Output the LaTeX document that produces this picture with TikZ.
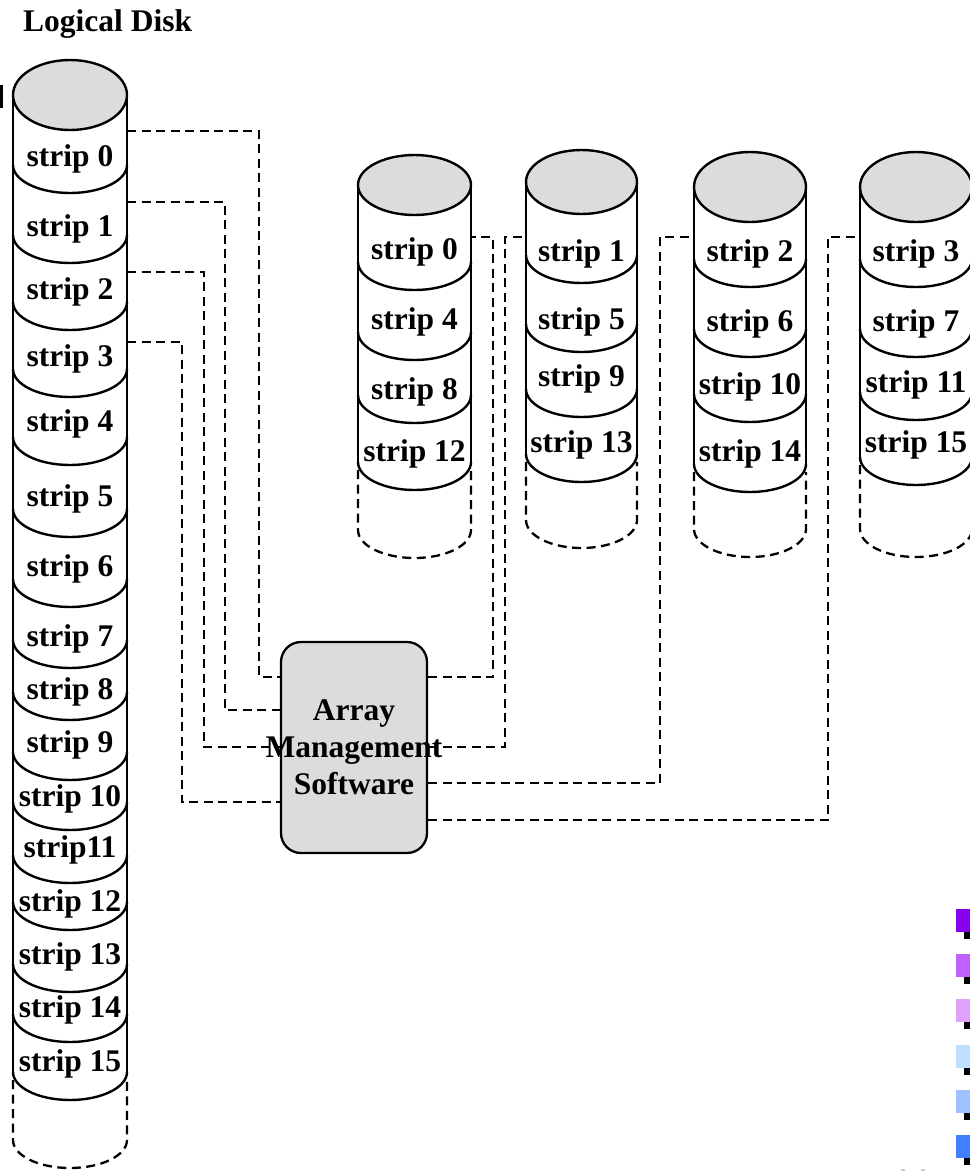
\documentclass[tikz,border=0pt]{standalone}
\usepackage{fontspec}
\setmainfont{Liberation Serif}
\definecolor{diskgray}{HTML}{DCDCDC}
\definecolor{swA}{HTML}{8800EE}
\definecolor{swB}{HTML}{BF60FF}
\definecolor{swC}{HTML}{DFA2F8}
\definecolor{swD}{HTML}{C0E0FF}
\definecolor{swE}{HTML}{A0C0FF}
\definecolor{swF}{HTML}{4080FF}
\newcommand\lblfont{\fontsize{31.5}{37}\selectfont\bfseries}

% #1 name prefix, #2 centre x, #3 half width, #4 centre y of the top,
% #5 y radius of the top, #6 segments (bottom/label centre/text),
% #7 end of the solid sides, #8 centre y of the dashed bottom arc
\newcommand\drawdisk[8]{%
  \draw[disk line] (#2-#3,#4) -- (#2-#3,#7) (#2+#3,#4) -- (#2+#3,#7);
  \draw[hidden] (#2-#3,#7+8) -- (#2-#3,#8)
     arc[start angle=180,end angle=360,x radius=#3pt,y radius=28pt] -- (#2+#3,#7+8);
  \foreach \b/\l/\t [count=\i from 0] in {#6} {
    \draw[disk line] (#2-#3,\b-28)
       arc[start angle=180,end angle=360,x radius=#3pt,y radius=28pt];
    \node[lbl] (#1\i) at (#2,\l+9) {\t};
  }
  \draw[disk top] (#2,#4) ellipse[x radius=#3pt,y radius=#5pt];
}

\begin{document}
\begin{tikzpicture}[x=1pt,y=-1pt,
  disk line/.style={line width=2.4pt},
  disk top/.style={draw, fill=diskgray, line width=2.4pt},
  hidden/.style={line width=2.3pt, dash pattern=on 9pt off 5.5pt},
  link/.style={line width=2.3pt, dash pattern=on 9pt off 5.5pt},
  lbl/.style={font=\lblfont, anchor=base, inner sep=0pt},
  box/.style={draw, fill=diskgray, rounded corners=20pt, line width=2.3pt,
    minimum width=146pt, minimum height=211pt, inner sep=0pt},
  swatch/.style={inner sep=0pt, minimum width=14pt, minimum height=23pt}]
\useasboundingbox (0,0) rectangle (970,1171);

% heading
\node[font=\lblfont, anchor=base west, inner sep=0pt] (title) at (23,31) {Logical Disk};
\fill (0,85) rectangle (2.5,108);

% logical disk
\drawdisk{L}{70}{57}{95}{35}{193/157/strip 0, 263/227/strip 1, 330/290/strip 2,
  397/357/strip 3, 465/422/strip 4, 537/497/strip 5, 607/567/strip 6,
  668/637/strip 7, 720/690/strip 8, 780/743/strip 9, 830/797/strip 10,
  883/848/strip11, 930/902/strip 12, 992/955/strip 13, 1042/1008/strip 14,
  1100/1062/strip 15}{1072}{1140}

% member disks
\drawdisk{A}{414.5}{56.5}{185}{30}{290/250/strip 0, 360/320/strip 4,
  423/390/strip 8, 490/452/strip 12}{462}{530}
\drawdisk{B}{581.5}{55.5}{182}{32}{283/252/strip 1, 352/320/strip 5,
  417/377/strip 9, 482/443/strip 13}{454}{520}
\drawdisk{C}{750}{56}{187}{35}{287/252/strip 2, 357/322/strip 6,
  422/385/strip 10, 492/452/strip 14}{464}{529}
\drawdisk{D}{916}{56}{187}{35}{287/252/strip 3, 357/322/strip 7,
  420/383/strip 11, 485/443/strip 15}{457}{529}

% connection points on the disk walls
\coordinate (Lo0) at (127,131);
\coordinate (Lo1) at (127,202);
\coordinate (Lo2) at (127,272);
\coordinate (Lo3) at (127,342);
\coordinate (Ai) at (471,237);
\coordinate (Bi) at (526,237);
\coordinate (Ci) at (694,237);
\coordinate (Di) at (860,237);

% array management software
\node[box] (ams) at (354,747.5) {};

% striping links
\draw[link] (Lo0) -| (259,677) -- (ams.west |- 0,677);
\draw[link] (Lo1) -| (225,710) -- (ams.west |- 0,710);
\draw[link] (Lo2) -| (204,747) -- (ams.west |- 0,747);
\draw[link] (Lo3) -| (182,802) -- (ams.west |- 0,802);
\draw[link] (ams.east |- 0,677) -| (493,237) -- (Ai);
\draw[link] (ams.east |- 0,747) -| (505,237) -- (Bi);
\draw[link] (ams.east |- 0,783) -| (660,237) -- (Ci);
\draw[link] (ams.east |- 0,820) -| (828,237) -- (Di);

\node[font=\lblfont, align=center, inner sep=0pt] (amstext) at (ams.center) {Array\\Management\\Software};

% colour swatches
\foreach \y/\c [count=\k] in {909/swA, 954/swB, 999/swC, 1045/swD, 1090/swE, 1135/swF} {
  \fill (964,\y+8) rectangle (970,\y+30);
  \node[swatch, fill=\c, anchor=north west] (sw\k) at (956,\y) {};
}
\fill[gray!40] (901,1169) rectangle (905,1171);
\fill[gray!40] (921,1169) rectangle (925,1171);
\end{tikzpicture}
\end{document}
